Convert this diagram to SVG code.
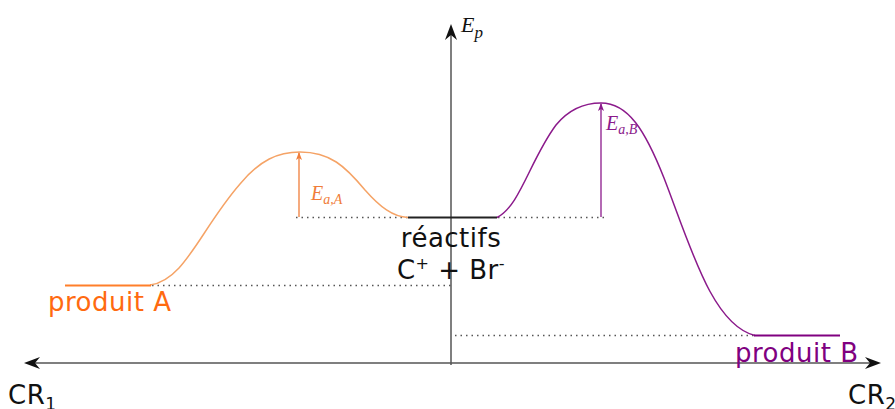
<svg xmlns="http://www.w3.org/2000/svg" width="895" height="409" viewBox="0 0 895 409">
<style>
.ax{stroke:#555;stroke-width:1.5;fill:none}
.dot{stroke:#555;stroke-width:1.3;stroke-dasharray:1.5 4;fill:none}
.lbl{font-family:"DejaVu Sans",Verdana,sans-serif;font-size:26px;letter-spacing:0.5px}
.math{font-family:"Liberation Serif","Times New Roman",serif;font-style:italic}
</style>
<defs>
<marker id="aho" markerWidth="8" markerHeight="8" refX="7" refY="4" orient="auto" markerUnits="userSpaceOnUse">
<path d="M8,4 L0,1 L2,4 L0,7 Z" fill="#f07d3a"/>
</marker>
<marker id="ahp" markerWidth="8" markerHeight="8" refX="7" refY="4" orient="auto" markerUnits="userSpaceOnUse">
<path d="M8,4 L0,1 L2,4 L0,7 Z" fill="#8b1a8b"/>
</marker>
</defs>
<g id="connectors">
<line class="ax" x1="27" y1="363" x2="878" y2="363"/>
<path d="M24,363 L40,357 L35,363 L40,369 Z" fill="#111"/>
<path d="M881,363 L865,357 L870,363 L865,369 Z" fill="#111"/>
<line class="ax" x1="451" y1="365" x2="451" y2="28"/>
<path d="M451,24 L445,40 L451,35 L457,40 Z" fill="#111"/>
<line class="dot" x1="296" y1="217.5" x2="408" y2="217.5"/>
<line class="dot" x1="498" y1="217.5" x2="605" y2="217.5"/>
<line class="dot" x1="152" y1="285.5" x2="451" y2="285.5"/>
<line class="dot" x1="455" y1="335.5" x2="755" y2="335.5"/>
</g>
<g id="reactifs">
<line x1="408" y1="217.5" x2="497" y2="217.5" stroke="#222" stroke-width="2"/>
<text class="lbl" x="451" y="247" text-anchor="middle" fill="#111">réactifs</text>
<text class="lbl" x="451" y="279" text-anchor="middle" fill="#111">C<tspan dy="-10" font-size="16">+</tspan><tspan dy="10"> + Br</tspan><tspan dy="-10" font-size="16">-</tspan></text>
</g>
<g id="produitA">
<path d="M150,285 C185,280 200,230 240,184 C260,160 278,152 300,152 C330,152 345,166 365,190 C380,207 393,217 408,217.5" fill="none" stroke="#f5a366" stroke-width="1.5"/>
<line x1="65" y1="285.5" x2="151" y2="285.5" stroke="#ff7f2a" stroke-width="2"/>
<text class="lbl" x="48" y="311" fill="#ff6a10">produit A</text>
<line x1="299" y1="217" x2="299" y2="153" stroke="#f07d3a" stroke-width="1.3" marker-end="url(#aho)"/>
<text class="math" x="311" y="200" font-size="20" fill="#f07d3a">E<tspan dy="4" font-size="14">a,A</tspan></text>
</g>
<g id="produitB">
<path d="M497,217.5 C520,206 530,160 556,125 C570,108 585,103 601,103 C628,103 645,130 664,178 C690,245 712,325 755,335.5" fill="none" stroke="#8b1a8b" stroke-width="1.5"/>
<line x1="754" y1="335.5" x2="840" y2="335.5" stroke="#800080" stroke-width="2"/>
<text class="lbl" x="735" y="362" fill="#800080">produit B</text>
<line x1="601" y1="217" x2="601" y2="104" stroke="#8b1a8b" stroke-width="1.3" marker-end="url(#ahp)"/>
<text class="math" x="606" y="130" font-size="20" fill="#8b1a8b">E<tspan dy="4" font-size="14">a,B</tspan></text>
</g>
<g id="labels">
<text class="math" x="461" y="32" font-size="22" fill="#111">E<tspan dy="6" font-size="17">p</tspan></text>
<text class="lbl" x="8" y="404" fill="#111">CR<tspan dy="6" font-size="17">1</tspan></text>
<text class="lbl" x="848" y="404" fill="#111">CR<tspan dy="6" font-size="17">2</tspan></text>
</g>
</svg>
